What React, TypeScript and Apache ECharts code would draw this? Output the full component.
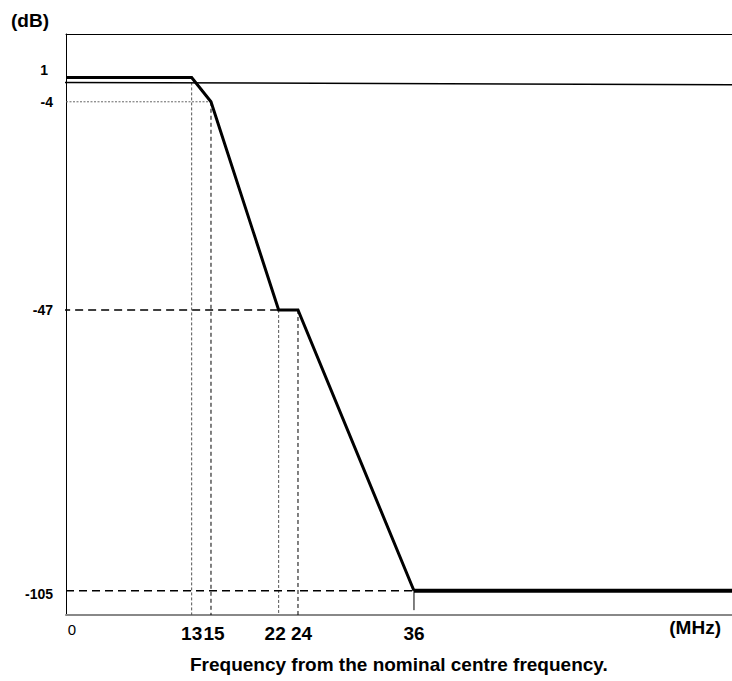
import React, { useEffect, useRef } from "react";
import * as echarts from "echarts";

// Filter mask: frequency offset (MHz) vs attenuation (dB)
const responseFreq = [0, 13, 15, 22, 24, 36];
const responseLevel = [1, 1, -4, -47, -47, -105];
const stopbandFreq = [36, 69];
const stopbandLevel = [-105, -105];
const referenceFreq = [-0.4, 69];
const referenceLevel = [0, -0.5];

const xTickValues = [0, 13, 15, 22, 24, 36];
const yTickValues = [1, -4, -47, -105];

// vertical guides
const vGuideFreq = [13, 15, 22, 24];
const vGuideTop = [0, -4, -47, -47];
const vGuideKind = ["dot", "dash", "dot", "dash"];
// horizontal guides
const hGuideLevel = [-4, -47, -105];
const hGuideStart = [0, -0.4, 0];
const hGuideEnd = [15, 22, 36];
const hGuideKind = ["hdot", "long", "long"];
// marker at stopband start
const markerFreq = [36, 36];
const markerLevel = [-105, -109];

const X_MAX = 68.9;
const Y_MIN = -110;
const Y_MAX = 10;

const FONT = "'Liberation Sans', Arial, sans-serif";

const guideStyle = (kind: string) => {
  if (kind === "dot") return { color: "#555", width: 1, type: [3, 2] as number[] };
  if (kind === "hdot") return { color: "#666", width: 1, type: [2, 1.5] as number[] };
  if (kind === "dash") return { color: "#000", width: 1, type: [4, 3] as number[] };
  return { color: "#000", width: 1.4, type: [8, 5] as number[] };
};

export default function App() {
  const ref = useRef<HTMLDivElement>(null);
  useEffect(() => {
    if (!ref.current) return;
    const chart = echarts.init(ref.current, undefined, { renderer: "svg" });
    const series: any[] = [];
    vGuideFreq.forEach((f, i) => {
      series.push({
        type: "line",
        data: [[f, vGuideTop[i]], [f, Y_MIN]],
        symbol: "none",
        silent: true,
        lineStyle: guideStyle(vGuideKind[i]),
        z: 1,
      });
    });
    hGuideLevel.forEach((lv, i) => {
      series.push({
        type: "line",
        data: [[hGuideStart[i], lv], [hGuideEnd[i], lv]],
        symbol: "none",
        silent: true,
        clip: false,
        lineStyle: guideStyle(hGuideKind[i]),
        z: 1,
      });
    });
    series.push({
      type: "line",
      data: markerFreq.map((f, i) => [f, markerLevel[i]]),
      symbol: "none",
      silent: true,
      lineStyle: { color: "#000", width: 1 },
      z: 1,
    });
    series.push({
      type: "line",
      data: referenceFreq.map((f, i) => [f, referenceLevel[i]]),
      symbol: "none",
      silent: true,
      clip: false,
      lineStyle: { color: "#000", width: 1.5 },
      z: 2,
    });
    series.push({
      type: "line",
      data: responseFreq.map((f, i) => [f, responseLevel[i]]),
      symbol: "none",
      silent: true,
      lineStyle: { color: "#000", width: 3, join: "miter" },
      z: 3,
    });
    series.push({
      type: "line",
      data: stopbandFreq.map((f, i) => [f, stopbandLevel[i]]),
      symbol: "none",
      silent: true,
      lineStyle: { color: "#000", width: 4 },
      z: 3,
    });

    const xRich: any = {
      z: { fontFamily: FONT, fontSize: 15, fontWeight: "normal", color: "#000", padding: [-2, 0, 0, 12] },
      c: { fontFamily: FONT, fontSize: 19, fontWeight: "bold", color: "#000" },
      r6: { fontFamily: FONT, fontSize: 19, fontWeight: "bold", color: "#000", padding: [0, 0, 0, 6] },
      l7: { fontFamily: FONT, fontSize: 19, fontWeight: "bold", color: "#000", padding: [0, 7, 0, 0] },
      r7: { fontFamily: FONT, fontSize: 19, fontWeight: "bold", color: "#000", padding: [0, 0, 0, 7] },
    };
    const xKey = (v: number) =>
      v === 0 ? "z" : v === 15 ? "r6" : v === 22 ? "l7" : v === 24 ? "r7" : "c";

    const yRich: any = {
      a: { fontFamily: FONT, fontSize: 14, fontWeight: "bold", color: "#000", padding: [0, 5, 15, 0] },
      b: { fontFamily: FONT, fontSize: 14, fontWeight: "bold", color: "#000" },
      c: { fontFamily: FONT, fontSize: 14, fontWeight: "bold", color: "#000", padding: [7, 0, 0, 0] },
    };
    const yKey = (v: number) => (v === 1 ? "a" : v === -105 ? "c" : "b");

    chart.setOption({
      animation: false,
      backgroundColor: "#fff",
      grid: { left: 66, right: 0, top: 34, bottom: 66 },
      xAxis: [
        {
          type: "value",
          min: 0,
          max: X_MAX,
          position: "bottom",
          axisLine: { show: true, onZero: false, lineStyle: { color: "#888", width: 2 } },
          axisTick: { show: false },
          splitLine: { show: false },
          axisLabel: {
            customValues: xTickValues,
            margin: 9,
            verticalAlign: "top",
            formatter: (v: number) => `{${xKey(v)}|${v}}`,
            rich: xRich,
          },
        },
        {
          type: "value",
          min: 0,
          max: X_MAX,
          position: "top",
          axisLine: { show: true, onZero: false, lineStyle: { color: "#000", width: 1 } },
          axisTick: { show: false },
          axisLabel: { show: false },
          splitLine: { show: false },
        },
      ],
      yAxis: {
        type: "value",
        min: Y_MIN,
        max: Y_MAX,
        axisLine: { show: true, onZero: false, lineStyle: { color: "#000", width: 1 } },
        axisTick: { show: false },
        splitLine: { show: false },
        axisLabel: {
          customValues: yTickValues,
          margin: 13,
          formatter: (v: number) => `{${yKey(v)}|${v}}`,
          rich: yRich,
        },
      },
      graphic: [
        {
          type: "text",
          x: 11,
          y: 20,
          style: { text: "(dB)", font: `bold 19px ${FONT}`, fill: "#000", textAlign: "left", textVerticalAlign: "middle" },
        },
        {
          type: "text",
          x: 721,
          y: 627,
          style: { text: "(MHz)", font: `bold 19px ${FONT}`, fill: "#000", textAlign: "right", textVerticalAlign: "middle" },
        },
        {
          type: "text",
          x: 190,
          y: 664,
          style: {
            text: "Frequency from the nominal centre frequency.",
            font: `bold 19px ${FONT}`,
            fill: "#000",
            textAlign: "left",
            textVerticalAlign: "middle",
          },
        },
      ],
      series,
    });
    return () => chart.dispose();
  }, []);
  return <div ref={ref} style={{ position: "fixed", left: 0, top: 0, width: 732, height: 681 }} />;
}
